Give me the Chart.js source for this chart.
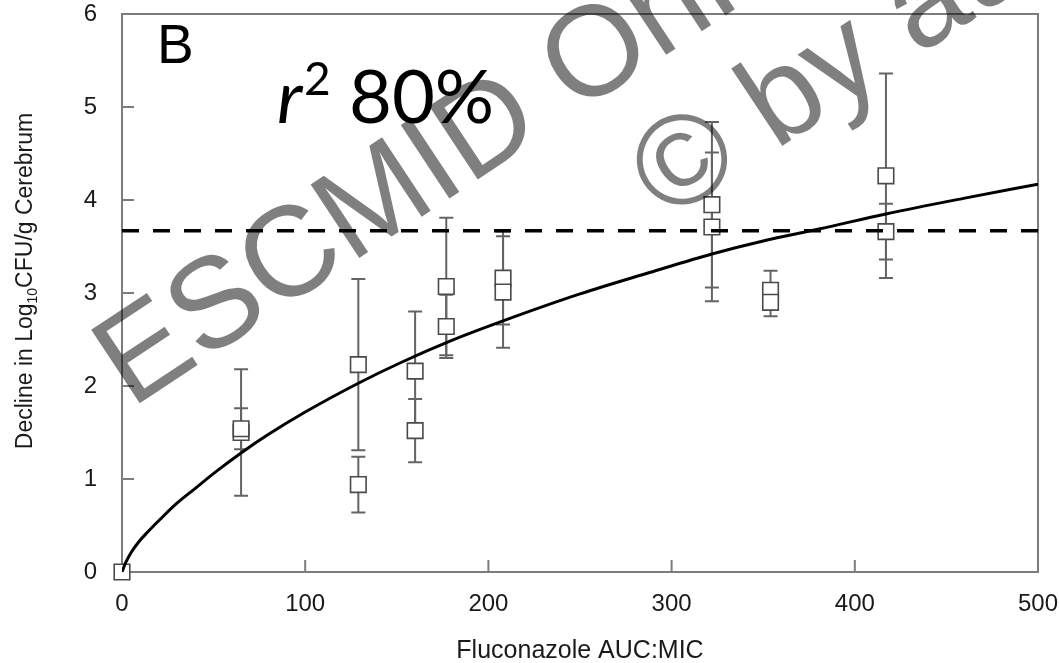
<!DOCTYPE html>
<html>
<head>
<meta charset="utf-8">
<script src="https://cdn.jsdelivr.net/npm/chart.js@4.4.0/dist/chart.umd.min.js"></script>
<style>
  html, body { margin: 0; padding: 0; background: #fff; }
  canvas { display: block; }
</style>
</head>
<body>
<canvas id="aucChart" width="1059" height="663"></canvas>
<script>
// Mean decline per group (log10 CFU/g) with SD, by fluconazole AUC:MIC
const aucMic    = [0, 65, 65, 129, 129, 160, 160, 177, 177, 208, 208, 322, 322, 354, 354, 417, 417];
const decline   = [0, 1.50, 1.54, 2.23, 0.94, 2.16, 1.52, 3.07, 2.64, 3.16, 3.01, 3.95, 3.71, 3.03, 2.90, 4.26, 3.66];
const declineSd = [0, 0.68, 0.22, 0.92, 0.30, 0.64, 0.34, 0.74, 0.34, 0.50, 0.60, 0.89, 0.80, 0.21, 0.15, 1.10, 0.30];

// Fitted exposure-response curve
const fitAuc     = [0, 2, 5, 9, 14, 21, 30, 40, 52, 65, 80, 100, 129, 152, 180, 208, 250, 288, 322, 350, 381, 417, 460, 500];
const fitDecline = [0, 0.10, 0.21, 0.32, 0.43, 0.57, 0.74, 0.90, 1.09, 1.28, 1.48, 1.72, 2.03, 2.25, 2.49, 2.70, 2.99, 3.22, 3.42, 3.56, 3.69, 3.85, 4.02, 4.17];

// Dashed reference level
const refLevel = 3.67;
const refAuc = [0, 500];

const xTicks = [0, 100, 200, 300, 400, 500];
const yTicks = [0, 1, 2, 3, 4, 5, 6];

const AXIS_GREY = '#7c7c7c';
const TEXT = '#1a1a1a';

function buildChart() {
    // frame around the plot and inward tick marks
    const frame = {
        id: 'frame',
        beforeDatasetsDraw(chart) {
            const { ctx, chartArea: a, scales: { x, y } } = chart;
            ctx.save();
            ctx.strokeStyle = AXIS_GREY;
            ctx.lineWidth = 2;
            ctx.strokeRect(a.left, a.top, a.right - a.left, a.bottom - a.top);
            ctx.beginPath();
            xTicks.forEach(v => {
                const px = x.getPixelForValue(v);
                ctx.moveTo(px, a.bottom);
                ctx.lineTo(px, a.bottom - 12);
            });
            yTicks.forEach(v => {
                const py = y.getPixelForValue(v);
                ctx.moveTo(a.left, py);
                ctx.lineTo(a.left + 12, py);
            });
            ctx.stroke();
            ctx.restore();
        }
    };

    // SD bars under the squares
    const errorBars = {
        id: 'errorBars',
        beforeDatasetsDraw(chart) {
            const { ctx, scales: { x, y } } = chart;
            ctx.save();
            ctx.strokeStyle = '#646464';
            ctx.lineWidth = 2;
            aucMic.forEach((a, i) => {
                const sd = declineSd[i];
                if (!sd) return;
                const px = x.getPixelForValue(a);
                const hi = y.getPixelForValue(decline[i] + sd);
                const lo = y.getPixelForValue(decline[i] - sd);
                ctx.beginPath();
                ctx.moveTo(px, hi); ctx.lineTo(px, lo);
                ctx.moveTo(px - 7, hi); ctx.lineTo(px + 7, hi);
                ctx.moveTo(px - 7, lo); ctx.lineTo(px + 7, lo);
                ctx.stroke();
            });
            ctx.restore();
        }
    };

    // panel letter, r2, y title with subscript, watermark
    const annotations = {
        id: 'annotations',
        afterDraw(chart) {
            const { ctx, chartArea: a } = chart;
            ctx.save();
            ctx.fillStyle = '#000';
            ctx.textBaseline = 'alphabetic';
            ctx.textAlign = 'left';

            ctx.font = '55px "Liberation Sans"';
            ctx.fillText('B', a.left + 35, 63);

            ctx.font = 'italic 74px Lato, "Open Sans"';
            ctx.fillText('r', 277, 123);
            ctx.font = '46px Lato, "Open Sans"';
            ctx.fillText('2', 304, 95);
            ctx.font = '74px Lato, "Open Sans"';
            ctx.fillText('80%', 349, 123);

            // y axis title, rotated, with subscript 10
            const partA = 'Decline in Log';
            const partB = 'CFU/g Cerebrum';
            ctx.fillStyle = TEXT;
            ctx.font = '23px "Liberation Sans"';
            const wA = ctx.measureText(partA).width;
            const wB = ctx.measureText(partB).width;
            ctx.font = '14px "Liberation Sans"';
            const wS = ctx.measureText('10').width;
            const total = wA + wS + wB;
            ctx.translate(32, (a.top + a.bottom) / 2 - 12);
            ctx.rotate(-Math.PI / 2);
            ctx.font = '23px "Liberation Sans"';
            ctx.fillText(partA, -total / 2, 0);
            ctx.fillText(partB, -total / 2 + wA + wS, 0);
            ctx.font = '14px "Liberation Sans"';
            ctx.fillText('10', -total / 2 + wA, 5);
            ctx.setTransform(1, 0, 0, 1, 0, 0);

            // watermark
            ctx.fillStyle = 'rgba(0, 0, 0, 0.5)';
            ctx.font = '128px "Liberation Sans"';
            ctx.translate(131, 409);
            ctx.rotate(-33.5 * Math.PI / 180);
            ctx.fillText('ESCMID Online', 0, 0);
            ctx.fillText('\u00A9 by author', 550, 140);
            ctx.restore();
        }
    };

    // keep the plot box where the layout padding puts it
    const noYPad = s => { s.width = 122; s.paddingTop = 0; s.paddingBottom = 0; };
    const noXPad = s => { s.height = 91; s.paddingLeft = 0; s.paddingRight = 0; };

    const ctx = document.getElementById('aucChart');
    new Chart(ctx, {
        type: 'scatter',
        data: {
            datasets: [{
                label: 'Fit',
                data: fitAuc.map((v, i) => ({ x: v, y: fitDecline[i] })),
                showLine: true,
                borderColor: '#000',
                borderWidth: 3,
                pointRadius: 0,
                cubicInterpolationMode: 'monotone',
                order: 1
            }, {
                label: 'Reference',
                data: refAuc.map(v => ({ x: v, y: refLevel })),
                showLine: true,
                borderColor: '#000',
                borderWidth: 3.5,
                borderDash: [17, 14],
                pointRadius: 0,
                order: 2
            }, {
                label: 'Groups',
                data: aucMic.map((v, i) => ({ x: v, y: decline[i] })),
                pointStyle: 'rect',
                pointRadius: 11,
                pointBorderWidth: 1.6,
                pointBorderColor: '#4a4a4a',
                pointBackgroundColor: '#fff',
                clip: false,
                order: 3
            }]
        },
        options: {
            responsive: false,
            animation: false,
            layout: { autoPadding: false, padding: { left: 0, right: 21, top: 14, bottom: 0 } },
            plugins: {
                legend: { display: false },
                tooltip: { enabled: false }
            },
            scales: {
                x: {
                    type: 'linear',
                    min: 0,
                    max: 500,
                    afterBuildTicks: s => { s.ticks = xTicks.map(v => ({ value: v })); },
                    afterFit: noXPad,
                    grid: { display: false, drawTicks: false },
                    border: { display: false },
                    ticks: {
                        padding: 18,
                        color: TEXT,
                        font: { family: 'Liberation Sans', size: 24 }
                    },
                    title: {
                        display: true,
                        text: 'Fluconazole AUC:MIC',
                        color: TEXT,
                        font: { family: 'Liberation Sans', size: 25 },
                        padding: { top: 0, bottom: -3 }
                    }
                },
                y: {
                    type: 'linear',
                    min: 0,
                    max: 6,
                    afterBuildTicks: s => { s.ticks = yTicks.map(v => ({ value: v })); },
                    afterFit: noYPad,
                    grid: { display: false, drawTicks: false },
                    border: { display: false },
                    ticks: {
                        padding: 25,
                        color: TEXT,
                        font: { family: 'Liberation Sans', size: 24 }
                    }
                }
            }
        },
        plugins: [frame, errorBars, annotations]
    });
}

document.addEventListener('DOMContentLoaded', function() {
    // canvas text needs the faces loaded before the first draw
    Promise.all([
        document.fonts.load('italic 74px Lato'),
        document.fonts.load('74px Lato'),
        document.fonts.load('24px "Liberation Sans"')
    ]).then(buildChart, buildChart);
});
</script>
</body>
</html>
